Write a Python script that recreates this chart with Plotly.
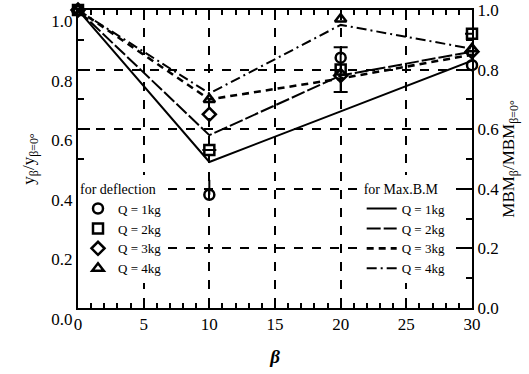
import plotly.graph_objects as go

# ---- data ----
beta = [0, 10, 20, 30]

# deflection ratio y_beta / y_beta=0 (markers)
defl_q1 = [1.0, 0.38, 0.84, 0.815]
defl_q2 = [1.0, 0.53, 0.80, 0.92]
defl_q3 = [1.0, 0.65, 0.78, 0.86]
defl_q4 = [1.0, 0.70, 0.97, 0.87]
err_q1_plus = [0, 0.05, 0, 0]
err_q2 = [0, 0, 0.075, 0]

# max bending moment ratio (lines)
mbm_q1 = [1.0, 0.49, 0.66, 0.83]
mbm_q2 = [1.0, 0.58, 0.78, 0.86]
mbm_q3 = [1.0, 0.70, 0.77, 0.85]
mbm_q4 = [1.0, 0.72, 0.95, 0.87]

labels = ["Q = 1kg", "Q = 2kg", "Q = 3kg", "Q = 4kg"]

FONT = "Liberation Serif, Times New Roman, serif"

fig = go.Figure()

defl = [defl_q1, defl_q2, defl_q3, defl_q4]
syms = ["circle-open", "square-open", "diamond-open", "triangle-up-open"]
for i, (ys, s) in enumerate(zip(defl, syms)):
    err = None
    if i == 0:
        err = dict(type="data", symmetric=False, array=err_q1_plus,
                   arrayminus=[0, 0, 0, 0], color="black", thickness=2, width=0)
    if i == 1:
        err = dict(type="data", array=err_q2, color="black", thickness=2, width=7)
    fig.add_trace(go.Scatter(
        x=beta, y=ys, mode="markers", name=labels[i], legend="legend",
        marker=dict(symbol=s, size=10, color="black", line=dict(width=2.5, color="black")),
        error_y=err, cliponaxis=False))

mbm = [mbm_q1, mbm_q2, mbm_q3, mbm_q4]
dashes = ["solid", "14px,3px", "7px,5px", "10px,4px,2px,4px"]
widths = [2, 2, 2.6, 2]
for i, ys in enumerate(mbm):
    fig.add_trace(go.Scatter(
        x=beta, y=ys, mode="lines", name=labels[i], legend="legend2", yaxis="y2",
        line=dict(color="black", width=widths[i], dash=dashes[i])))

fig.update_layout(
    width=529, height=374,
    margin=dict(l=78, r=57, t=10, b=66, autoexpand=False),
    paper_bgcolor="white", plot_bgcolor="white",
    font=dict(family=FONT, size=17, color="black"),
    xaxis=dict(
        range=[0, 30], dtick=5, tick0=0,
        showline=True, linecolor="black", linewidth=2, mirror="ticks",
        ticks="inside", ticklen=10, tickwidth=1.5, tickcolor="black",
        minor=dict(ticks="inside", dtick=1, ticklen=5, tickwidth=1.5, tickcolor="black", showgrid=False),
        showgrid=True, gridcolor="black", gridwidth=1.5, griddash="dash",
        zeroline=False, automargin=False,
        title=dict(text="<b><i>β</i></b>", font=dict(size=19, family=FONT), standoff=16),
    ),
    yaxis=dict(
        range=[0, 1.0], dtick=0.2, tick0=0, tickformat=".1f",
        showline=True, linecolor="black", linewidth=2,
        ticks="inside", ticklen=12, tickwidth=1.5, tickcolor="black",
        minor=dict(ticks="inside", dtick=0.1, ticklen=6, tickwidth=1.5, tickcolor="black", showgrid=False),
        showgrid=True, gridcolor="black", gridwidth=1.5, griddash="dash",
        zeroline=False, ticklabelshift=11, automargin=False,
        title=dict(text="y<sub>β</sub>/y<sub>β=0°</sub>", font=dict(size=17, family=FONT), standoff=12),
    ),
    yaxis2=dict(
        range=[0, 1.0], dtick=0.2, tick0=0, tickformat=".1f",
        overlaying="y", side="right",
        showline=True, linecolor="black", linewidth=2,
        ticks="inside", ticklen=12, tickwidth=1.5, tickcolor="black",
        minor=dict(ticks="inside", dtick=0.1, ticklen=6, tickwidth=1.5, tickcolor="black", showgrid=False),
        showgrid=False, zeroline=False, automargin=False,
        title=dict(text="MBM<sub>β</sub>/MBM<sub>β=0°</sub>", font=dict(size=17, family=FONT), standoff=2),
    ),
    legend=dict(
        x=0.0, y=0.445, xanchor="left", yanchor="top",
        bgcolor="white", borderwidth=0,
        title=dict(text="for deflection", font=dict(size=14, family=FONT)),
        font=dict(size=13, family=FONT), itemwidth=30, tracegroupgap=0,
    ),
    legend2=dict(
        x=0.72, y=0.445, xanchor="left", yanchor="top",
        bgcolor="white", borderwidth=0,
        title=dict(text="for Max.B.M", font=dict(size=14, family=FONT)),
        font=dict(size=13, family=FONT), itemwidth=30, tracegroupgap=0,
    ),
    showlegend=True,
)

fig.write_html("out.html")
